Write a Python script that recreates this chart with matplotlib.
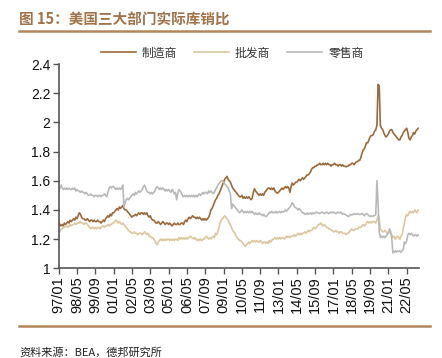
import matplotlib
matplotlib.use('Agg')
import matplotlib.pyplot as plt
import pandas as pd

mfg = [
    1.32, 1.30, 1.29, 1.30, 1.29, 1.31, 1.30, 1.31, 1.32, 1.31, 1.33, 1.32,  # 1997
    1.33, 1.34, 1.33, 1.35, 1.34, 1.36, 1.38, 1.37, 1.35, 1.34, 1.34, 1.33,  # 1998
    1.33, 1.34, 1.33, 1.32, 1.33, 1.33, 1.32, 1.33, 1.32, 1.32, 1.33, 1.32,  # 1999
    1.32, 1.31, 1.32, 1.33, 1.32, 1.34, 1.35, 1.36, 1.35, 1.37, 1.36, 1.38,  # 2000
    1.38, 1.39, 1.40, 1.41, 1.40, 1.42, 1.41, 1.42, 1.43, 1.41, 1.40, 1.40,  # 2001
    1.39, 1.38, 1.37, 1.36, 1.35, 1.36, 1.36, 1.37, 1.36, 1.37, 1.38, 1.37,  # 2002
    1.38, 1.38, 1.37, 1.38, 1.37, 1.38, 1.36, 1.35, 1.36, 1.34, 1.33, 1.33,  # 2003
    1.32, 1.31, 1.31, 1.32, 1.31, 1.30, 1.31, 1.32, 1.31, 1.30, 1.31, 1.31,  # 2004
    1.30, 1.31, 1.30, 1.29, 1.30, 1.31, 1.30, 1.30, 1.31, 1.30, 1.30, 1.31,  # 2005
    1.31, 1.30, 1.32, 1.33, 1.32, 1.34, 1.35, 1.34, 1.35, 1.36, 1.35, 1.35,  # 2006
    1.34, 1.35, 1.34, 1.35, 1.34, 1.33, 1.34, 1.33, 1.34, 1.33, 1.34, 1.35,  # 2007
    1.37, 1.40, 1.41, 1.43, 1.45, 1.47, 1.48, 1.50, 1.51, 1.53, 1.55, 1.57,  # 2008
    1.59, 1.61, 1.62, 1.63, 1.61, 1.60, 1.59, 1.57, 1.55, 1.54, 1.53, 1.52,  # 2009
    1.51, 1.50, 1.49, 1.49, 1.50, 1.48, 1.49, 1.48, 1.49, 1.48, 1.49, 1.48,  # 2010
    1.47, 1.48, 1.52, 1.545, 1.53, 1.52, 1.51, 1.50, 1.51, 1.50, 1.51, 1.50,  # 2011
    1.52, 1.53, 1.54, 1.55, 1.55, 1.54, 1.55, 1.54, 1.55, 1.53, 1.52, 1.515,  # 2012
    1.52, 1.53, 1.54, 1.55, 1.54, 1.55, 1.56, 1.55, 1.56, 1.55, 1.52, 1.56,  # 2013
    1.585, 1.57, 1.58, 1.59, 1.59, 1.60, 1.61, 1.60, 1.61, 1.62, 1.61, 1.62,  # 2014
    1.63, 1.64, 1.64, 1.65, 1.66, 1.68, 1.69, 1.69, 1.70, 1.70, 1.71, 1.71,  # 2015
    1.72, 1.71, 1.71, 1.72, 1.71, 1.72, 1.71, 1.72, 1.71, 1.71, 1.70, 1.71,  # 2016
    1.71, 1.72, 1.71, 1.71, 1.70, 1.71, 1.71, 1.70, 1.71, 1.70, 1.70, 1.695,  # 2017
    1.70, 1.70, 1.71, 1.71, 1.72, 1.72, 1.71, 1.72, 1.73, 1.73, 1.74, 1.74,  # 2018
    1.76, 1.79, 1.81, 1.82, 1.84, 1.86, 1.86, 1.88, 1.90, 1.91, 1.91, 1.92,  # 2019
    1.94, 1.95, 1.98, 2.26, 2.25, 1.98, 1.96, 1.95, 1.93, 1.91, 1.90, 1.91,  # 2020
    1.92, 1.94, 1.95, 1.95, 1.93, 1.92, 1.91, 1.90, 1.89, 1.88, 1.88, 1.90,  # 2021
    1.91, 1.93, 1.94, 1.95, 1.96, 1.93, 1.89, 1.88, 1.90, 1.91, 1.93, 1.92,  # 2022
    1.94, 1.95, 1.96, 1.96,                                                  # 2023
]

wholesale = [
    1.26, 1.25, 1.27, 1.27, 1.28, 1.28, 1.29, 1.29, 1.28, 1.29, 1.30, 1.29,  # 1997
    1.30, 1.30, 1.31, 1.30, 1.31, 1.31, 1.31, 1.32, 1.31, 1.31, 1.30, 1.31,  # 1998
    1.31, 1.30, 1.29, 1.28, 1.27, 1.28, 1.28, 1.27, 1.28, 1.27, 1.28, 1.28,  # 1999
    1.27, 1.28, 1.29, 1.29, 1.28, 1.29, 1.29, 1.30, 1.29, 1.30, 1.30, 1.31,  # 2000
    1.31, 1.32, 1.33, 1.32, 1.31, 1.32, 1.31, 1.30, 1.31, 1.30, 1.29, 1.28,  # 2001
    1.27, 1.26, 1.25, 1.25, 1.24, 1.24, 1.25, 1.24, 1.24, 1.23, 1.24, 1.24,  # 2002
    1.24, 1.23, 1.24, 1.25, 1.24, 1.23, 1.24, 1.22, 1.22, 1.21, 1.21, 1.20,  # 2003
    1.19, 1.17, 1.16, 1.18, 1.19, 1.20, 1.19, 1.20, 1.19, 1.20, 1.19, 1.20,  # 2004
    1.20, 1.19, 1.20, 1.19, 1.20, 1.19, 1.20, 1.20, 1.19, 1.21, 1.20, 1.21,  # 2005
    1.20, 1.21, 1.20, 1.21, 1.20, 1.21, 1.21, 1.22, 1.21, 1.21, 1.20, 1.21,  # 2006
    1.20, 1.19, 1.20, 1.19, 1.20, 1.19, 1.20, 1.20, 1.21, 1.22, 1.21, 1.20,  # 2007
    1.21, 1.20, 1.21, 1.22, 1.21, 1.24, 1.23, 1.25, 1.28, 1.31, 1.33, 1.34,  # 2008
    1.35, 1.36, 1.35, 1.34, 1.33, 1.31, 1.30, 1.28, 1.26, 1.25, 1.24, 1.22,  # 2009
    1.21, 1.20, 1.19, 1.19, 1.18, 1.17, 1.16, 1.15, 1.16, 1.17, 1.18, 1.17,  # 2010
    1.18, 1.19, 1.18, 1.19, 1.18, 1.19, 1.18, 1.18, 1.19, 1.18, 1.17, 1.18,  # 2011
    1.18, 1.17, 1.18, 1.17, 1.19, 1.18, 1.19, 1.20, 1.20, 1.21, 1.20, 1.21,  # 2012
    1.20, 1.21, 1.20, 1.21, 1.21, 1.20, 1.21, 1.22, 1.21, 1.22, 1.21, 1.22,  # 2013
    1.22, 1.22, 1.23, 1.22, 1.23, 1.24, 1.23, 1.24, 1.23, 1.24, 1.24, 1.25,  # 2014
    1.24, 1.25, 1.26, 1.25, 1.26, 1.26, 1.27, 1.28, 1.27, 1.28, 1.29, 1.30,  # 2015
    1.30, 1.31, 1.30, 1.29, 1.30, 1.29, 1.28, 1.28, 1.27, 1.27, 1.26, 1.26,  # 2016
    1.25, 1.25, 1.26, 1.25, 1.25, 1.24, 1.25, 1.25, 1.24, 1.24, 1.24, 1.23,  # 2017
    1.24, 1.24, 1.25, 1.26, 1.27, 1.26, 1.26, 1.27, 1.27, 1.27, 1.28, 1.28,  # 2018
    1.28, 1.29, 1.30, 1.29, 1.30, 1.31, 1.32, 1.31, 1.32, 1.31, 1.32, 1.32,  # 2019
    1.32, 1.31, 1.33, 1.36, 1.34, 1.27, 1.26, 1.25, 1.25, 1.26, 1.25, 1.24,  # 2020
    1.25, 1.25, 1.24, 1.23, 1.21, 1.22, 1.20, 1.21, 1.22, 1.21, 1.20, 1.22,  # 2021
    1.23, 1.27, 1.31, 1.35, 1.37, 1.36, 1.38, 1.39, 1.38, 1.39, 1.38, 1.40,  # 2022
    1.39, 1.38, 1.40, 1.40,                                                  # 2023
]

retail = [
    1.53, 1.55, 1.57, 1.55, 1.54, 1.55, 1.54, 1.55, 1.54, 1.55, 1.54, 1.54,  # 1997
    1.55, 1.54, 1.55, 1.53, 1.54, 1.53, 1.53, 1.52, 1.53, 1.52, 1.52, 1.51,  # 1998
    1.52, 1.51, 1.50, 1.50, 1.51, 1.50, 1.50, 1.49, 1.50, 1.50, 1.49, 1.50,  # 1999
    1.50, 1.49, 1.50, 1.50, 1.51, 1.50, 1.49, 1.52, 1.55, 1.56, 1.55, 1.56,  # 2000
    1.56, 1.55, 1.54, 1.55, 1.54, 1.55, 1.54, 1.55, 1.57, 1.42, 1.45, 1.47,  # 2001
    1.48, 1.47, 1.48, 1.49, 1.50, 1.51, 1.50, 1.52, 1.51, 1.52, 1.53, 1.52,  # 2002
    1.53, 1.54, 1.56, 1.57, 1.55, 1.53, 1.52, 1.52, 1.51, 1.52, 1.51, 1.52,  # 2003
    1.53, 1.55, 1.56, 1.55, 1.54, 1.55, 1.54, 1.55, 1.54, 1.53, 1.54, 1.53,  # 2004
    1.54, 1.53, 1.52, 1.54, 1.53, 1.51, 1.52, 1.47, 1.51, 1.54, 1.53, 1.52,  # 2005
    1.50, 1.49, 1.50, 1.49, 1.50, 1.49, 1.50, 1.49, 1.50, 1.49, 1.50, 1.49,  # 2006
    1.50, 1.49, 1.50, 1.51, 1.50, 1.51, 1.52, 1.51, 1.52, 1.52, 1.51, 1.53,  # 2007
    1.52, 1.53, 1.52, 1.51, 1.52, 1.54, 1.55, 1.57, 1.58, 1.59, 1.60, 1.60,  # 2008
    1.59, 1.58, 1.57, 1.56, 1.55, 1.53, 1.51, 1.41, 1.44, 1.43, 1.42, 1.41,  # 2009
    1.40, 1.39, 1.38, 1.39, 1.40, 1.39, 1.38, 1.39, 1.38, 1.39, 1.38, 1.39,  # 2010
    1.38, 1.39, 1.38, 1.37, 1.38, 1.37, 1.37, 1.38, 1.37, 1.37, 1.36, 1.37,  # 2011
    1.36, 1.355, 1.36, 1.37, 1.385, 1.38, 1.39, 1.38, 1.385, 1.38, 1.39, 1.38,  # 2012
    1.385, 1.39, 1.38, 1.39, 1.385, 1.39, 1.40, 1.39, 1.40, 1.41, 1.42, 1.43,  # 2013
    1.45, 1.44, 1.42, 1.415, 1.41, 1.40, 1.41, 1.40, 1.39, 1.38, 1.38, 1.37,  # 2014
    1.37, 1.38, 1.37, 1.375, 1.38, 1.37, 1.38, 1.375, 1.38, 1.385, 1.38, 1.38,  # 2015
    1.375, 1.38, 1.385, 1.38, 1.375, 1.38, 1.385, 1.38, 1.375, 1.38, 1.385, 1.38,  # 2016
    1.385, 1.38, 1.375, 1.38, 1.385, 1.38, 1.385, 1.38, 1.37, 1.375, 1.37, 1.365,  # 2017
    1.36, 1.355, 1.36, 1.37, 1.365, 1.37, 1.375, 1.37, 1.37, 1.375, 1.37, 1.37,  # 2018
    1.37, 1.375, 1.37, 1.36, 1.37, 1.375, 1.37, 1.36, 1.355, 1.36, 1.355, 1.36,  # 2019
    1.36, 1.37, 1.60, 1.45, 1.25, 1.21, 1.22, 1.21, 1.22, 1.21, 1.22, 1.23,  # 2020
    1.24, 1.27, 1.25, 1.20, 1.105, 1.11, 1.12, 1.11, 1.12, 1.115, 1.12, 1.11,  # 2021
    1.12, 1.13, 1.18, 1.17, 1.19, 1.23, 1.24, 1.23, 1.24, 1.23, 1.22, 1.23,  # 2022
    1.23, 1.22, 1.23, 1.23,                                                  # 2023
]

series_names = ['制造商', '批发商', '零售商']
start_month = '1997-01'
tick_step = 16
y_ticks = [1, 1.2, 1.4, 1.6, 1.8, 2, 2.2, 2.4]

BROWN = '#9c6a3b'
TAN = '#dcc79f'
GREY = '#b9b9b9'
RULE = '#b3875a'

cjk = ['Noto Sans CJK SC', 'DejaVu Sans']
plt.rcParams['font.family'] = ['Liberation Sans', 'Noto Sans CJK SC']


def main():
    n = len(mfg)
    dates = pd.date_range(start_month, periods=n, freq='MS')
    labels = dates.strftime('%y/%m')
    x = range(n)

    fig = plt.figure(figsize=(4.42, 3.58), dpi=100)
    ax = fig.add_axes([0.1328, 0.2506, 0.8158, 0.5706])

    ax.plot(x, mfg, color=BROWN, lw=1.2, label=series_names[0])
    ax.plot(x, wholesale, color=TAN, lw=1.2, label=series_names[1])
    ax.plot(x, retail, color=GREY, lw=1.2, label=series_names[2])

    ax.set_xlim(0, n - 1)
    ax.set_ylim(1, 2.4)
    ax.set_yticks(y_ticks)
    ax.set_yticklabels(['%g' % v for v in y_ticks], fontsize=10)
    ticks = list(range(0, n, tick_step))
    ax.set_xticks(ticks)
    ax.set_xticklabels([labels[i] for i in ticks], rotation=90, fontsize=10.5)

    for s in ['top', 'right']:
        ax.spines[s].set_visible(False)
    for s in ['left', 'bottom']:
        ax.spines[s].set_color('#555555')
        ax.spines[s].set_linewidth(1.2)
    ax.tick_params(direction='out', length=4, width=1, color='#555555',
                   labelcolor='#111111', pad=2)

    leg = fig.legend(loc='center', bbox_to_anchor=(0.525, 1 - 53 / 358), ncol=3,
                     frameon=False, handlelength=3.0, columnspacing=1.4,
                     handletextpad=0.5, prop={'family': cjk, 'size': 8.5})
    for t in leg.get_texts():
        t.set_color('#333333')

    # title, rules and source
    fig.text(19 / 442, 1 - 20 / 358, '图 15：美国三大部门实际库销比', family=cjk,
             fontsize=10.5, fontweight='bold', color='#a0734a', va='center')
    fig.add_artist(plt.Line2D([19 / 442, 430 / 442], [1 - 31 / 358] * 2,
                              color=RULE, lw=1.8))
    fig.add_artist(plt.Line2D([19 / 442, 430 / 442], [1 - 326 / 358] * 2,
                              color=RULE, lw=1.8))
    fig.text(19 / 442, 1 - 352 / 358, '资料来源：BEA，德邦研究所', family=cjk,
             fontsize=8, color='#222222', va='center')

    fig.savefig('out.png', dpi=100)


if __name__ == '__main__':
    main()
